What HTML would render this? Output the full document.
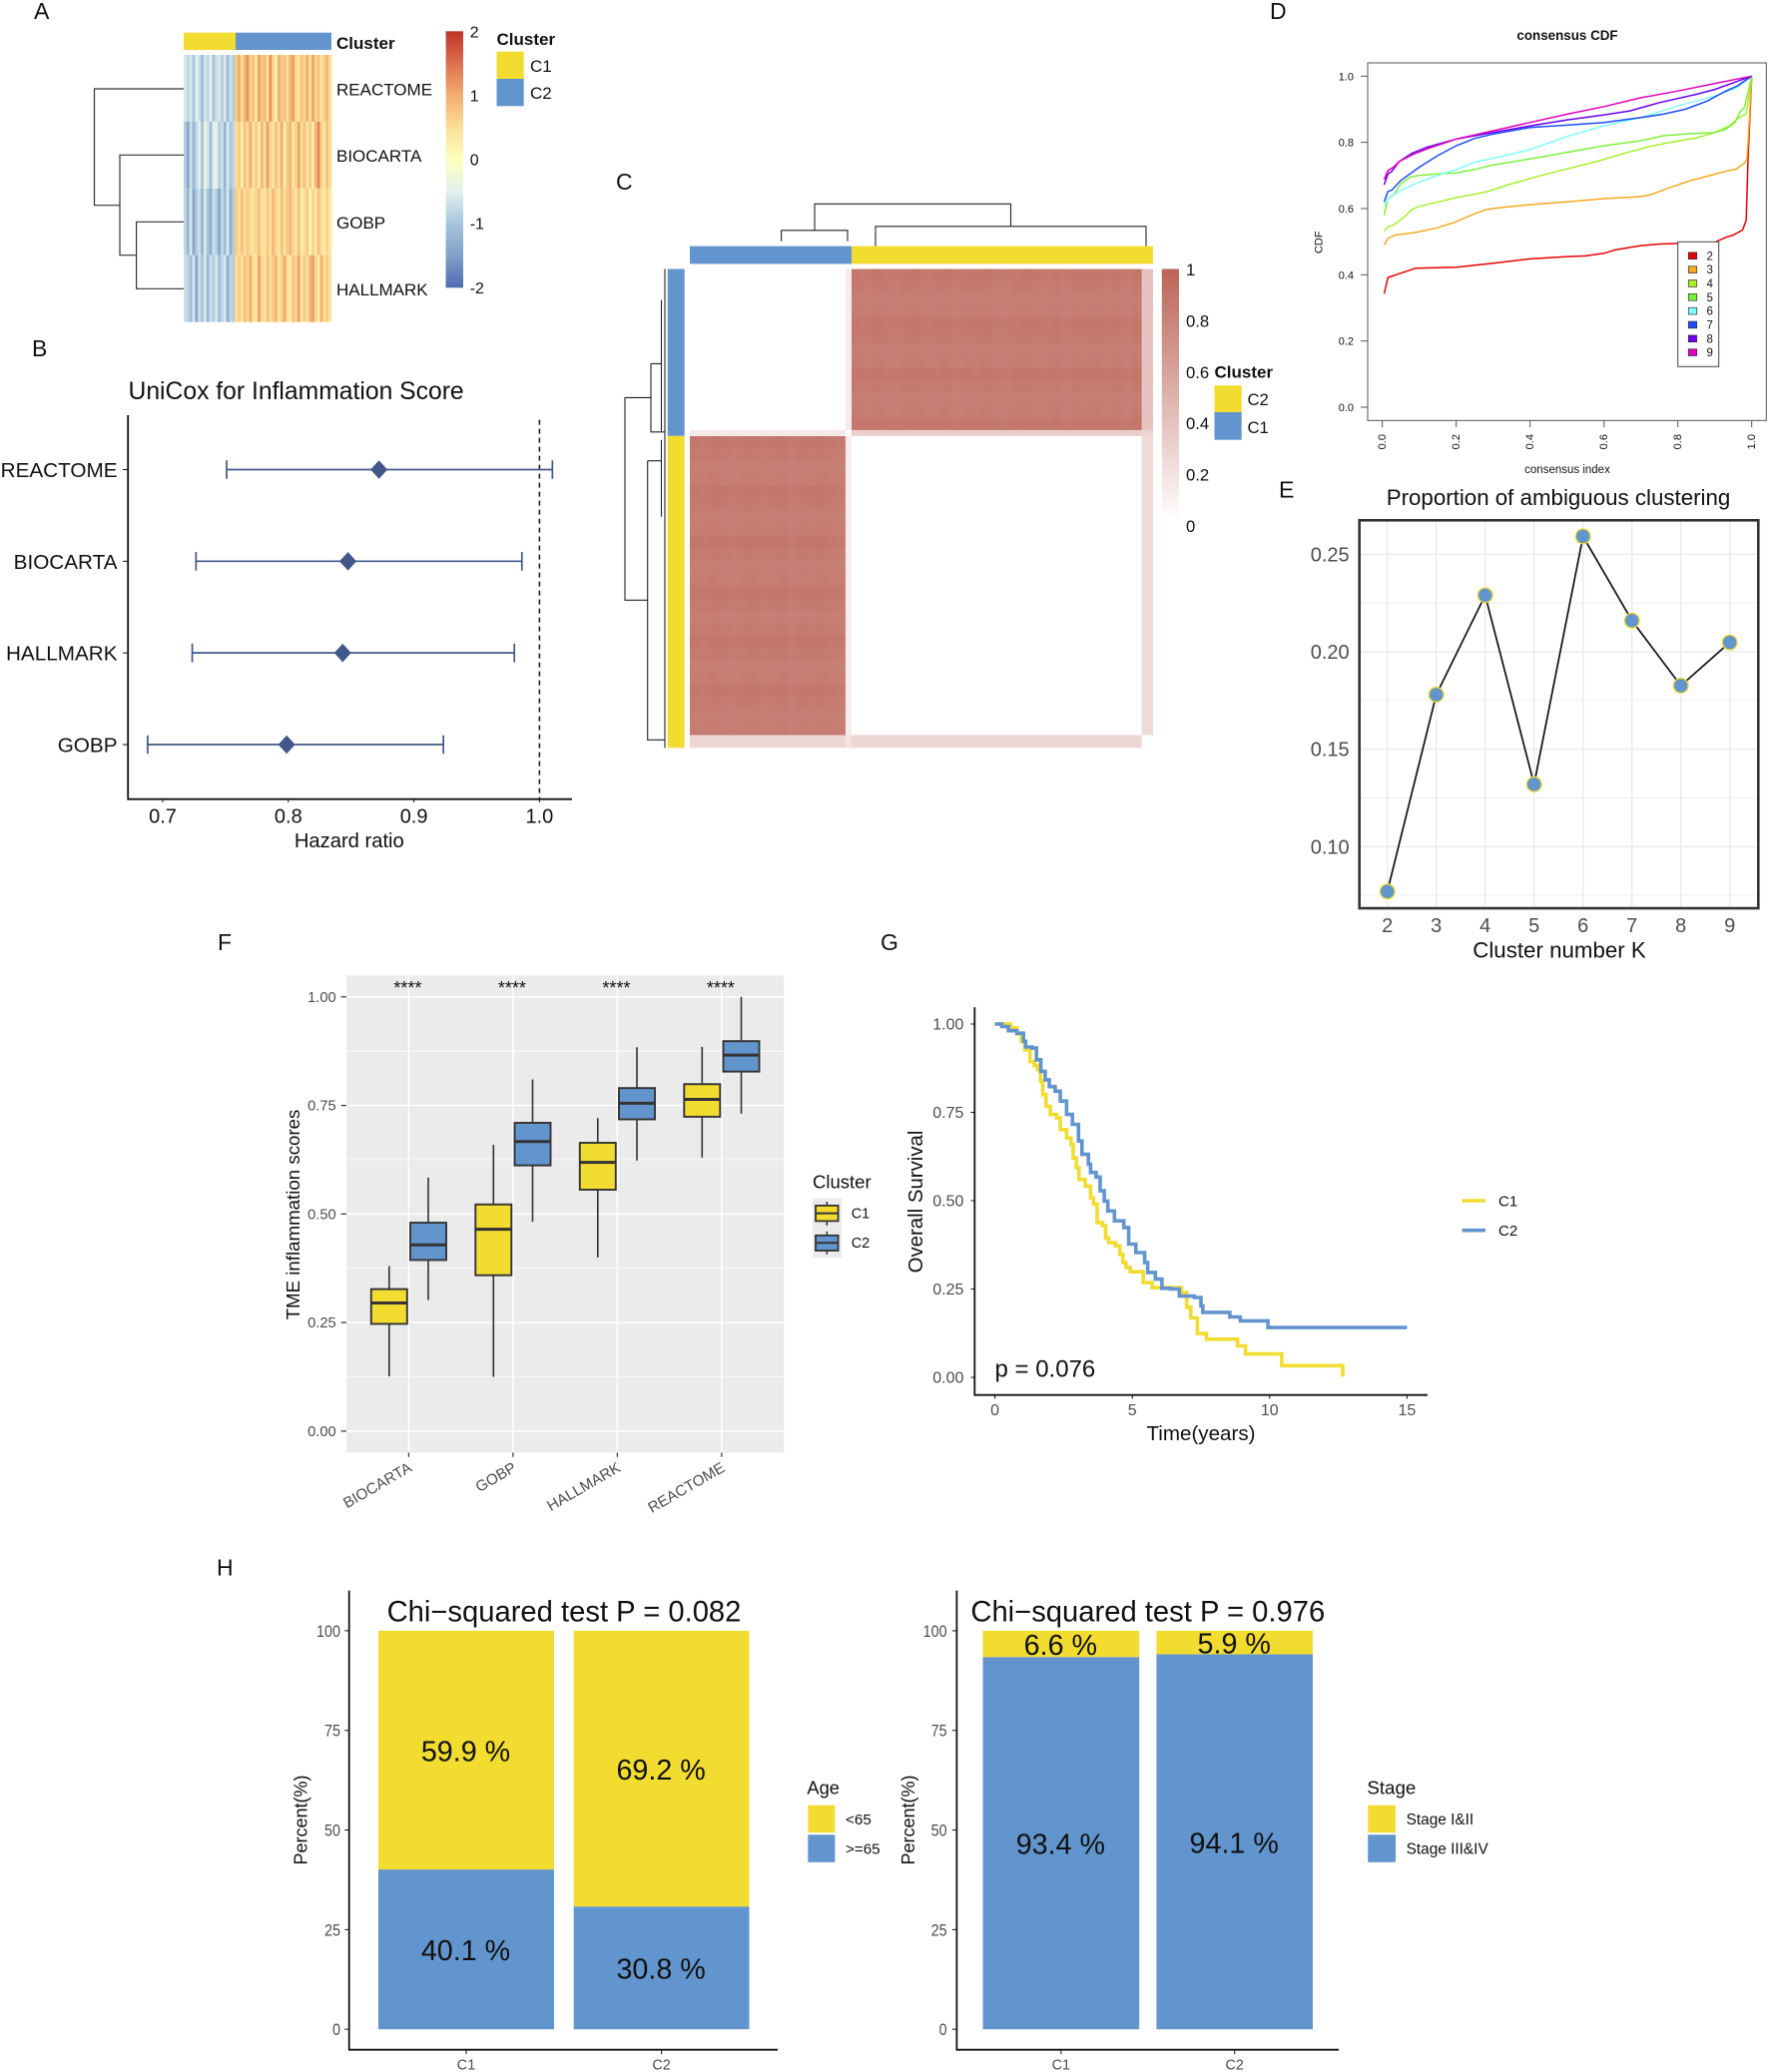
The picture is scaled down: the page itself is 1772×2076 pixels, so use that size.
<!DOCTYPE html>
<html lang="en">
<head>
<meta charset="utf-8">
<title>Inflammation score clustering figure</title>
<style>
  html, body { margin: 0; padding: 0; background: #fff; }
  svg { display: block; }
  text { font-family: "Liberation Sans", Arial, sans-serif; dominant-baseline: central; fill: #111; }
  .letter { font-size: 23px; fill: #111; }
  .bold { font-weight: bold; }
</style>
</head>
<body>
<svg id="figure" xmlns="http://www.w3.org/2000/svg" width="1772" height="2076" viewBox="0 0 1772 2076">
  <defs>
    <linearGradient id="grad-heat" x1="0" y1="0" x2="0" y2="1">
      <stop offset="0" stop-color="#c0342a"/>
      <stop offset="0.125" stop-color="#dd7050"/>
      <stop offset="0.25" stop-color="#f1ae70"/>
      <stop offset="0.375" stop-color="#fbdf96"/>
      <stop offset="0.5" stop-color="#ffffc0"/>
      <stop offset="0.625" stop-color="#e3f0ee"/>
      <stop offset="0.75" stop-color="#a8c5dd"/>
      <stop offset="0.875" stop-color="#7f9fc8"/>
      <stop offset="1" stop-color="#4f6db0"/>
    </linearGradient>
    <linearGradient id="grad-consensus" x1="0" y1="0" x2="0" y2="1">
      <stop offset="0" stop-color="#bb6456"/>
      <stop offset="1" stop-color="#ffffff"/>
    </linearGradient>
  </defs>
  <rect x="0" y="0" width="1772" height="2076" fill="#fff"/>

  <text class="letter" x="34" y="10">A</text>
  <text class="letter" x="32" y="348">B</text>
  <text class="letter" x="617" y="181">C</text>
  <text class="letter" x="1272" y="10">D</text>
  <text class="letter" x="1281" y="489.5">E</text>
  <text class="letter" x="218" y="943">F</text>
  <text class="letter" x="882" y="943">G</text>
  <text class="letter" x="217" y="1569.5">H</text>

  <!-- Panel A -->
  <g id="panel-a">
    <path fill="none" stroke="#333" stroke-width="1.2" d="M184 89H94.5V205.7H120M184 155.3H120V255.7H136.6M184 222.3H136.6V289.3H184"/>
    <rect x="184" y="32.7" width="52" height="17.3" fill="#f2dc30"/>
    <rect x="236" y="32.7" width="96" height="17.3" fill="#6295ce"/>
    <text class="bold" x="337" y="42.3" font-size="17">Cluster</text>
    <text x="337" y="89" font-size="17">REACTOME</text>
    <text x="337" y="155.7" font-size="17">BIOCARTA</text>
    <text x="337" y="222.3" font-size="17">GOBP</text>
    <text x="337" y="289.3" font-size="17">HALLMARK</text>
    <rect x="446.6" y="31.3" width="17.4" height="257" fill="url(#grad-heat)"/>
    <text x="470.7" y="32" font-size="16">2</text>
    <text x="470.7" y="96" font-size="16">1</text>
    <text x="470.7" y="160" font-size="16">0</text>
    <text x="470.7" y="224" font-size="16">-1</text>
    <text x="470.7" y="288.7" font-size="16">-2</text>
    <text class="bold" x="497.5" y="38.5" font-size="17">Cluster</text>
    <rect x="497.5" y="51.7" width="27.2" height="27.3" fill="#f2dc30"/>
    <rect x="497.5" y="79" width="27.2" height="27.3" fill="#6295ce"/>
    <text x="531" y="65.7" font-size="17">C1</text>
    <text x="531" y="92.7" font-size="17">C2</text>
  </g>

  <!-- Panel B -->
  <g id="panel-b">
    <text x="128.5" y="391.3" font-size="24.7">UniCox for Inflammation Score</text>
    <path fill="none" stroke="#111" stroke-width="1.8" d="M128.2 416V800.7H573"/>
    <text x="349.8" y="842" font-size="20.2" text-anchor="middle">Hazard ratio</text>
  </g>

  <!-- Panel C -->
  <g id="panel-c">
    <path fill="none" stroke="#222" stroke-width="1.1" d="M816 230.8V204.3H1012.5V226.8M782.6 241.8V230.8H849V241.8M877 252V226.8H1148V248M691.5 255H1155M846 252H851V255M1145 250H1151V255"/>
    <path fill="none" stroke="#888" stroke-width="1.2" d="M721 252.5H749M782 252.5H848M858 252H897M900 253.5H931"/>
    <rect x="691" y="246.6" width="162" height="17.8" fill="#6295ce"/>
    <rect x="853" y="246.6" width="302" height="17.8" fill="#f2dc30"/>
    <path fill="none" stroke="#222" stroke-width="1.1" d="M652 398.4H626V601.3H648.7M652 364.4V432.8H666M652 364.4H662.5M662.5 300.4V432M648.7 461.7V741.3H666M648.7 461.7H662.5M662.5 440.7V517.8M666 269.5V749.2"/>
    <rect x="668.7" y="269.5" width="17" height="167.3" fill="#6295ce"/>
    <rect x="668.7" y="436.8" width="17" height="312.4" fill="#f2dc30"/>
    <rect x="1163.8" y="269.5" width="17.2" height="252.3" fill="url(#grad-consensus)"/>
    <text x="1188" y="269.5" font-size="16.7">1</text>
    <text x="1188" y="321" font-size="16.7">0.8</text>
    <text x="1188" y="372.3" font-size="16.7">0.6</text>
    <text x="1188" y="423.7" font-size="16.7">0.4</text>
    <text x="1188" y="475" font-size="16.7">0.2</text>
    <text x="1188" y="526.5" font-size="16.7">0</text>
    <text class="bold" x="1216.5" y="372" font-size="17">Cluster</text>
    <rect x="1216.5" y="386.2" width="27.2" height="26.8" fill="#f2dc30"/>
    <rect x="1216.5" y="413" width="27.2" height="27.7" fill="#6295ce"/>
    <text x="1249.5" y="399.6" font-size="16.7">C2</text>
    <text x="1249.5" y="427.3" font-size="16.7">C1</text>
  </g>

  <!-- Panel D -->
  <g id="panel-d">
    <text class="bold" x="1570" y="34.5" font-size="13.4" text-anchor="middle">consensus CDF</text>
    <rect x="1370" y="63" width="399.3" height="358.3" fill="none" stroke="#555" stroke-width="1"/>
    <text x="1570" y="470" font-size="11.5" text-anchor="middle" fill="#333">consensus index</text>
    <text x="1321.7" y="242.7" font-size="11" text-anchor="middle" transform="rotate(-90 1321.7 242.7)">CDF</text>
  </g>

  <!-- Panel E -->
  <g id="panel-e">
    <text x="1561" y="497.5" font-size="22.3" text-anchor="middle">Proportion of ambiguous clustering</text>
    <text x="1562" y="951.2" font-size="22.3" text-anchor="middle">Cluster number K</text>
  </g>

  <!-- Panel F -->
  <g id="panel-f">
    <rect x="347" y="977.4" width="438.3" height="478" fill="#ebebeb"/>
    <text x="293.5" y="1217" font-size="18.7" text-anchor="middle" transform="rotate(-90 293.5 1217)">TME inflammation scores</text>
    <text x="814" y="1183" font-size="18.5">Cluster</text>
    <rect x="814" y="1200.8" width="29" height="59.2" fill="#ebebeb"/>
    <path stroke="#333" stroke-width="1.5" d="M828.3 1204V1227.8"/>
    <rect x="817" y="1207.9" width="22.6" height="15.5" fill="#f2dc30" stroke="#333" stroke-width="1.8"/>
    <path stroke="#333" stroke-width="2" d="M817 1215.6H839.6"/>
    <path stroke="#333" stroke-width="1.5" d="M828.3 1233.8V1256.7"/>
    <rect x="817" y="1237.8" width="22.6" height="15.2" fill="#6295ce" stroke="#333" stroke-width="1.8"/>
    <path stroke="#333" stroke-width="2" d="M817 1245.2H839.6"/>
    <text x="852.7" y="1215.6" font-size="14.4">C1</text>
    <text x="852.7" y="1245.2" font-size="14.4">C2</text>
  </g>

  <!-- Panel G -->
  <g id="panel-g">
    <path fill="none" stroke="#111" stroke-width="1.8" d="M976.3 1009.3V1397.7H1430"/>
    <text x="918" y="1204" font-size="20.4" text-anchor="middle" transform="rotate(-90 918 1204)">Overall Survival</text>
    <text x="1203" y="1435.7" font-size="20.6" text-anchor="middle">Time(years)</text>
    <text x="996.5" y="1371" font-size="24">p = 0.076</text>
    <path stroke="#f2dc30" stroke-width="3.6" d="M1464.6 1203H1488"/>
    <path stroke="#6295ce" stroke-width="3.6" d="M1464.6 1232.7H1488"/>
    <text x="1501" y="1203" font-size="15">C1</text>
    <text x="1501" y="1232.7" font-size="15">C2</text>
  </g>

  <!-- Panel H -->
  <g id="panel-h">
    <path fill="none" stroke="#111" stroke-width="1.8" d="M349.7 1593.6V2053.7H779"/>
    <path fill="none" stroke="#111" stroke-width="1.8" d="M958.4 1593.6V2053.7H1341"/>
    <text x="565" y="1614.4" font-size="29.2" text-anchor="middle">Chi&#8722;squared test P = 0.082</text>
    <text x="1149.8" y="1614.4" font-size="29.2" text-anchor="middle">Chi&#8722;squared test P = 0.976</text>
    <text x="301.5" y="1823.5" font-size="18" text-anchor="middle" transform="rotate(-90 301.5 1823.5)">Percent(%)</text>
    <text x="909.8" y="1823.5" font-size="18" text-anchor="middle" transform="rotate(-90 909.8 1823.5)">Percent(%)</text>
    <text x="808.4" y="1790" font-size="18.3">Age</text>
    <rect x="809.3" y="1808.7" width="27.1" height="27.5" fill="#f2dc30"/>
    <rect x="809.3" y="1838.3" width="27.1" height="27.5" fill="#6295ce"/>
    <text x="847" y="1822.5" font-size="15.2">&lt;65</text>
    <text x="847" y="1852" font-size="15.2">&gt;=65</text>
    <text x="1369.4" y="1790" font-size="18.7">Stage</text>
    <rect x="1370.2" y="1808.7" width="27.8" height="27.5" fill="#f2dc30"/>
    <rect x="1370.2" y="1838.3" width="27.8" height="27.5" fill="#6295ce"/>
    <text x="1408.6" y="1822.5" font-size="15.4">Stage I&amp;II</text>
    <text x="1408.6" y="1852" font-size="15.4">Stage III&amp;IV</text>
  </g>
</svg>

<script>
// ---------- Panel A: pathway score heatmap (columns: C1 then C2) ----------
const heatReactome = [-.6,-.8,-.6,-1,-.5,-.7,-1.1,-.6,-.8,-.5,-1,-.7,-.6,-.9,-.6,-1.1,-.7,-.9,.7,1,.5,.9,1.2,.6,.8,.4,1.1,.7,.9,.5,1.2,.6,.3,1,.7,.8,.5,.9,1.1,.6,.4,.8,.6,1,.5,1.1,.6,.8,.4,.7,.9,.5];
const heatBiocarta = [-.9,-1.4,-.7,-1.2,-.8,-.5,-1,-.4,-.6,-1.1,-.5,-.4,-.9,-.7,-1.2,-.6,-1,-.8,.5,.7,.3,.8,.5,1,.4,.7,.3,.9,.5,1.1,.6,.4,.8,.5,1,.3,.7,.9,.4,.6,1.1,.5,.8,.4,.7,.3,.9,1.3,.6,.4,.8,.5];
const heatGobp = [-.8,-1.2,-.6,-1.4,-.9,-.7,-1.2,-.6,-1,-1.3,-.7,-.9,-1.4,-.8,-1.1,-.6,-1.3,-.9,.7,.5,.8,.5,.7,.5,.4,.6,.8,.5,.4,.7,.5,.9,.6,.4,.8,.5,.7,.9,.6,.4,.8,.3,.5,.7,.2,.6,.4,.8,.5,.3,.6,.4];
const heatHallmark = [-.7,-.8,-1.1,-.6,-1.4,-.7,-1,-.6,-1.2,-.7,-.9,-.6,-1.1,-.8,-.6,-1.3,-.8,-.9,.5,.7,.4,.8,.6,1,.5,.4,1.1,.6,.4,.8,.5,.7,.9,.4,.6,1,.5,.3,.8,.6,1.1,.4,.7,.5,.9,1.1,.6,.3,1,.5,.7,.4];

// ---------- Panel B: forest plot ----------
const forestLabels = ["REACTOME","BIOCARTA","HALLMARK","GOBP"];
const forestEstimate = [.8722,.8475,.8433,.7987];
const forestLower = [.7509,.7265,.7235,.688];
const forestUpper = [1.0103,.986,.98,.9235];
const forestTicks = [.7,.8,.9,1.0];

// ---------- Panel C: consensus matrix ----------
const cmColFractions = [.336,.013,.6265,.0245];
const cmRowFractions = [.3365,.0123,.6247,.0265];
const cmRow1 = [0,.12,.85,.38];
const cmRow2 = [.14,0,.32,.28];
const cmRow3 = [.85,.12,0,.24];
const cmRow4 = [.26,.18,.26,0];
const cmRowBand = [.02,.0,-.02,-.01,.02,.005,-.02,-.01,.025,.0,-.02,-.01,.02,.005,-.02,0,.025,.005,-.02,-.01,.02,0,-.02,-.01];
const cmColBand = [.005,-.005,.01,0,-.01,.005,.01,-.005,0,.01,-.01,.005,0,.01,-.005,-.01,.005,.01,0,-.005,.01,-.01,.005,0,.01,-.005,.005,-.01,.01,0];

// ---------- Panel D: consensus CDF ----------
const cdfKLabels = ["2","3","4","5","6","7","8","9"];
const cdfIndexK2 = [.005,.015,.05,.09,.2,.3,.4,.5,.55,.6,.63,.7,.75,.9,.93,.95,.975,.985,.99,1];
const cdfValueK2 = [.343,.392,.405,.42,.423,.435,.448,.455,.457,.465,.475,.488,.493,.498,.513,.52,.535,.565,.75,1];
const cdfIndexK3 = [.005,.015,.035,.09,.15,.2,.24,.28,.32,.4,.5,.6,.7,.73,.77,.83,.88,.92,.96,.97,.98,.987,.99,1];
const cdfValueK3 = [.49,.51,.52,.528,.542,.56,.58,.597,.603,.612,.62,.63,.636,.643,.66,.683,.698,.71,.72,.73,.737,.75,.8,1];
const cdfIndexK4 = [.005,.015,.03,.055,.08,.1,.15,.2,.28,.35,.43,.5,.58,.65,.72,.77,.85,.9,.94,.965,.985,.99,1];
const cdfValueK4 = [.532,.545,.55,.57,.597,.607,.62,.633,.65,.675,.7,.72,.742,.765,.787,.798,.813,.83,.85,.875,.885,.92,1];
const cdfIndexK5 = [.005,.015,.03,.05,.075,.1,.15,.2,.25,.3,.4,.5,.6,.7,.76,.82,.9,.93,.955,.97,.98,.99,1];
const cdfValueK5 = [.58,.63,.64,.675,.695,.7,.705,.708,.718,.732,.75,.77,.79,.805,.82,.825,.83,.84,.86,.895,.905,.95,1];
const cdfIndexK6 = [.005,.02,.05,.1,.15,.2,.25,.3,.4,.5,.6,.7,.8,.9,.96,1];
const cdfValueK6 = [.61,.635,.655,.68,.7,.718,.74,.752,.778,.818,.85,.875,.91,.94,.965,1];
const cdfIndexK7 = [.005,.015,.025,.05,.1,.15,.2,.25,.3,.4,.5,.6,.7,.76,.82,.88,.93,.96,1];
const cdfValueK7 = [.62,.652,.655,.685,.725,.76,.79,.812,.825,.845,.852,.86,.875,.885,.9,.925,.955,.97,1];
const cdfIndexK8 = [.005,.015,.025,.045,.08,.12,.2,.3,.4,.5,.6,.67,.75,.85,.9,.95,1];
const cdfValueK8 = [.672,.705,.712,.742,.767,.785,.81,.83,.85,.868,.883,.895,.92,.945,.96,.98,1];
const cdfIndexK9 = [.005,.015,.03,.045,.08,.12,.2,.3,.4,.5,.6,.7,.8,.9,1];
const cdfValueK9 = [.688,.715,.725,.742,.762,.78,.81,.835,.86,.885,.908,.935,.955,.978,1];
const cdfTicks = ["0.0","0.2","0.4","0.6","0.8","1.0"];

// ---------- Panel E: proportion of ambiguous clustering ----------
const pacK = [2,3,4,5,6,7,8,9];
const pacValues = [.077,.178,.229,.132,.2592,.216,.1826,.2048];
const pacYTicks = ["0.10","0.15","0.20","0.25"];

// ---------- Panel F: box plots ----------
const boxCategories = ["BIOCARTA","GOBP","HALLMARK","REACTOME"];
const boxC1Low = [.126,.125,.4,.63];
const boxC1Q1 = [.247,.359,.556,.724];
const boxC1Median = [.295,.465,.619,.764];
const boxC1Q3 = [.327,.522,.664,.799];
const boxC1High = [.38,.659,.721,.885];
const boxC2Low = [.302,.482,.623,.731];
const boxC2Q1 = [.394,.612,.718,.828];
const boxC2Median = [.429,.667,.755,.866];
const boxC2Q3 = [.48,.71,.79,.898];
const boxC2High = [.584,.81,.884,1];
const boxYTicks = ["0.00","0.25","0.50","0.75","1.00"];
const boxSignificance = ["****","****","****","****"];

// ---------- Panel G: Kaplan-Meier ----------
const kmTimeC1 = [0,.41,.57,.8,.96,1.09,1.23,1.28,1.43,1.55,1.66,1.74,1.86,2.02,2.25,2.38,2.61,2.77,2.85,2.96,3.06,3.29,3.48,3.59,3.72,3.91,4.03,4.14,4.39,4.55,4.66,4.77,4.93,5.31,5.4,5.72,6.47,6.79,6.98,7.13,7.37,7.7,8.83,9.12,10.44,12.66,12.66];
const kmSurvC1 = [1,1,.989,.972,.951,.927,.927,.894,.883,.871,.838,.8,.767,.744,.734,.701,.678,.659,.621,.593,.56,.541,.508,.49,.438,.429,.395,.381,.372,.348,.325,.311,.299,.299,.268,.254,.254,.24,.198,.168,.124,.108,.089,.066,.033,.033,.002];
const kmTimeC2 = [0,.25,.49,.8,1.04,1.12,1.35,1.51,1.67,1.83,1.98,2.19,2.38,2.61,2.82,3.04,3.17,3.4,3.48,3.68,3.83,3.98,4.11,4.35,4.69,4.87,5.13,5.45,5.56,5.84,6.08,6.39,6.71,7.26,7.5,7.57,8.55,8.93,9.94,15];
const kmSurvC2 = [1,.993,.981,.974,.951,.935,.932,.899,.866,.842,.823,.81,.782,.744,.716,.669,.631,.603,.58,.567,.528,.499,.471,.443,.424,.377,.353,.325,.297,.278,.252,.25,.23,.226,.202,.184,.171,.16,.141,.141];
const kmXTicks = [0,5,10,15];
const kmYTicks = ["0.00","0.25","0.50","0.75","1.00"];

// ---------- Panel H: stacked bars ----------
const barCategories = ["C1","C2"];
const ageUnder65 = [59.9,69.2];
const ageOver65 = [40.1,30.8];
const stageEarly = [6.6,5.9];
const stageLate = [93.4,94.1];
const percentTicks = [0,25,50,75,100];

// ---------- drawing helpers ----------
const NS = "http://www.w3.org/2000/svg";
function mk(parent, tag, attrs, content) {
  const el = document.createElementNS(NS, tag);
  for (const k in attrs) el.setAttribute(k, attrs[k]);
  if (content !== undefined) el.textContent = content;
  parent.appendChild(el);
  return el;
}
function lerpStops(stops, v) {
  if (v <= stops[0][0]) return stops[0][1];
  for (let i = 1; i < stops.length; i++) {
    if (v <= stops[i][0]) {
      const t = (v - stops[i-1][0]) / (stops[i][0] - stops[i-1][0]);
      const a = stops[i-1][1], b = stops[i][1];
      return [0,1,2].map(j => a[j] + (b[j]-a[j]) * t);
    }
  }
  return stops[stops.length-1][1];
}
function rgb(c) { return "rgb(" + c.map(Math.round).join(",") + ")"; }
const YELLOW = "#f2dc30", BLUE = "#6295ce";
let el;

// ---------- Panel A draw ----------
(function () {
  const g = document.getElementById("panel-a");
  const stops = [[-2,[79,109,176]],[-1.5,[127,159,200]],[-1,[168,197,221]],[-.5,[227,240,238]],[0,[255,255,192]],[.5,[251,223,150]],[1,[241,174,112]],[1.5,[221,112,80]],[2,[192,52,42]]];
  const heatRows = [heatReactome, heatBiocarta, heatGobp, heatHallmark];
  const x0 = 184, x1 = 332, y0 = 55, y1 = 322.7;
  const colX = i => x0 + (x1 - x0) * i / heatReactome.length;
  const rowY = i => y0 + (y1 - y0) * i / heatRows.length;
  heatRows.forEach((row, r) => {
    row.forEach((v, c) => {
      el = mk(g, "rect", {x: colX(c), y: rowY(r), width: colX(c+1)-colX(c)+.3, height: rowY(r+1)-rowY(r), fill: rgb(lerpStops(stops, v))});
      
      
    });
  });
})();

// ---------- Panel B draw ----------
(function () {
  const g = document.getElementById("panel-b");
  const col = "#41578a";
  const bx = v => 163 + (v - .7) * 1258;
  const by = i => 470.5 + i * 91.83;
  el = mk(g, "line", {x1: bx(1), x2: bx(1), y1: 420.6, y2: 800.7, stroke: "#111", "stroke-width": 1.5, "stroke-dasharray": "5 4"});
  
  
  forestTicks.forEach(t => {
    el = mk(g, "line", {x1: bx(t), x2: bx(t), y1: 800.7, y2: 804, stroke: "#111", "stroke-width": 1});
    
    
    el = mk(g, "text", {x: bx(t), y: 817.6, "font-size": 20, "text-anchor": "middle"}, t.toFixed(1));
    
    
  });
  forestLabels.forEach((lab, i) => {
    const y = by(i);
    el = mk(g, "line", {x1: 123, x2: 128, y1: y, y2: y, stroke: "#111", "stroke-width": 1});
    
    
    el = mk(g, "text", {x: 117.5, y: y, "font-size": 20.7, "text-anchor": "end"}, lab);
    
    
    el = mk(g, "path", {d: `M${bx(forestLower[i])} ${y-9.3}V${y+9.3}M${bx(forestLower[i])} ${y}H${bx(forestUpper[i])}M${bx(forestUpper[i])} ${y-9.3}V${y+9.3}`, fill: "none", stroke: col, "stroke-width": 1.7});
    
    
    const e = bx(forestEstimate[i]);
    el = mk(g, "polygon", {points: `${e-8.5},${y} ${e},${y-9.3} ${e+8.5},${y} ${e},${y+9.3}`, fill: col});
    
    
  });
})();

// ---------- Panel C draw ----------
(function () {
  const g = document.getElementById("panel-c");
  const x0 = 691, x1 = 1155, y0 = 269.5, y1 = 749.2;
  const cmValues = [cmRow1, cmRow2, cmRow3, cmRow4];
  const sum = a => a.reduce((p, c) => p + c, 0);
  const xScale = f => x0 + (x1 - x0) * f / sum(cmColFractions);
  const yScale = f => y0 + (y1 - y0) * f / sum(cmRowFractions);
  const color = v => {
    const c = Math.max(0, Math.min(1, v));
    return rgb([255 - 68 * c, 255 - 155 * c, 255 - 168 * c]);
  };
  let fy = 0;
  cmValues.forEach((row, r) => {
    let fx = 0;
    row.forEach((v, c) => {
      const ax = xScale(fx), bx = xScale(fx + cmColFractions[c]);
      const ay = yScale(fy), by = yScale(fy + cmRowFractions[r]);
      if (v > .5) {
        const nc = Math.max(1, Math.round((bx - ax) / 10));
        const nr = Math.max(1, Math.round((by - ay) / 12.5));
        for (let i = 0; i < nr; i++) {
          for (let j = 0; j < nc; j++) {
            el = mk(g, "rect", {x: ax + (bx-ax)*j/nc, y: ay + (by-ay)*i/nr, width: (bx-ax)/nc + .4, height: (by-ay)/nr + .4, fill: color(v + cmRowBand[i % cmRowBand.length] + cmColBand[j % cmColBand.length]), "shape-rendering": "crispEdges"});
            
            
          }
        }
      } else if (v > 0) {
        el = mk(g, "rect", {x: ax, y: ay, width: bx-ax, height: by-ay, fill: color(v)});
        
        
      }
      fx += cmColFractions[c];
    });
    fy += cmRowFractions[r];
  });
})();

// ---------- Panel D draw ----------
(function () {
  const g = document.getElementById("panel-d");
  const dx = v => 1384.7 + 370 * v;
  const dy = v => 408 - 331.7 * v;
  const colors = ["#e60000","#f5a820","#a8f02c","#7cf03c","#7ffcfc","#1c4cf8","#6a00f0","#e000b8"];
  const xs = [cdfIndexK2,cdfIndexK3,cdfIndexK4,cdfIndexK5,cdfIndexK6,cdfIndexK7,cdfIndexK8,cdfIndexK9];
  const ys = [cdfValueK2,cdfValueK3,cdfValueK4,cdfValueK5,cdfValueK6,cdfValueK7,cdfValueK8,cdfValueK9];
  cdfTicks.forEach(t => {
    const v = parseFloat(t);
    el = mk(g, "line", {x1: 1363, x2: 1370, y1: dy(v), y2: dy(v), stroke: "#555"});
    
    
    el = mk(g, "text", {x: 1356, y: dy(v), "font-size": 11, "text-anchor": "end", fill: "#333"}, t);
    
    
    el = mk(g, "line", {x1: dx(v), x2: dx(v), y1: 421.3, y2: 428, stroke: "#555"});
    
    
    el = mk(g, "text", {x: dx(v) + .5, y: 442.7, "font-size": 11, "text-anchor": "middle", transform: `rotate(-90 ${dx(v) + .5} 442.7)`, fill: "#333"}, t);
    
    
  });
  xs.forEach((series, k) => {
    const d = series.map((x, i) => (i ? "L" : "M") + dx(x).toFixed(1) + " " + dy(ys[k][i]).toFixed(1)).join("");
    el = mk(g, "path", {d: d, fill: "none", stroke: colors[k], "stroke-width": 1.5});
    
    
  });
  el = mk(g, "rect", {x: 1680.7, y: 242.3, width: 41, height: 125, fill: "#fff", stroke: "#444", "stroke-width": 1});
  
  
  cdfKLabels.forEach((lab, i) => {
    const y = 256.3 + i * 13.83;
    el = mk(g, "rect", {x: 1691.3, y: y - 3.4, width: 8.4, height: 6.8, fill: colors[i], stroke: "#333", "stroke-width": .7});
    
    
    el = mk(g, "text", {x: 1712.7, y: y, "font-size": 11.5, "text-anchor": "middle", fill: "#222"}, lab);
    
    
  });
})();

// ---------- Panel E draw ----------
(function () {
  const g = document.getElementById("panel-e");
  const ex = k => 1389.7 + (k - 2) * 49;
  const ey = v => 848.3 - (v - .1) * 1953;
  const L = 1361.7, R = 1761.3, T = 521.3, B = 910;
  const minorTicks = [.075,.125,.175,.225];
  minorTicks.forEach(v => {
    el = mk(g, "line", {x1: L, x2: R, y1: ey(v), y2: ey(v), stroke: "#f0f0f0", "stroke-width": 1});
    
    
  });
  pacYTicks.forEach(t => {
    const v = parseFloat(t);
    el = mk(g, "line", {x1: L, x2: R, y1: ey(v), y2: ey(v), stroke: "#ebebeb", "stroke-width": 1.5});
    
    
    el = mk(g, "text", {x: 1351.7, y: ey(v), "font-size": 20, "text-anchor": "end"}, t);
    
    
    el.style.fill = "#4d4d4d";
  });
  pacK.forEach(k => {
    el = mk(g, "line", {x1: ex(k), x2: ex(k), y1: T, y2: B, stroke: "#ebebeb", "stroke-width": 1.5});
    
    
    el = mk(g, "text", {x: ex(k), y: 927, "font-size": 20, "text-anchor": "middle"}, k);
    
    
    el.style.fill = "#4d4d4d";
  });
  el = mk(g, "rect", {x: L, y: T, width: R - L, height: B - T, fill: "none", stroke: "#333", "stroke-width": 2.6});
  
  
  el = mk(g, "polyline", {points: pacK.map((k, i) => ex(k) + "," + ey(pacValues[i]).toFixed(1)).join(" "), fill: "none", stroke: "#111", "stroke-width": 1.7});
  
  
  pacK.forEach((k, i) => {
    el = mk(g, "circle", {cx: ex(k), cy: ey(pacValues[i]), r: 7.4, fill: BLUE, stroke: YELLOW, "stroke-width": 1.3});
    
    
  });
})();

// ---------- Panel F draw ----------
(function () {
  const g = document.getElementById("panel-f");
  const fx = i => 409.4 + i * 104.5;
  const fy = v => 1433.9 - 435.1 * v;
  const L = 347, R = 785.3, T = 977.4, B = 1455.4;
  const minorTicks = [.125,.375,.625,.875];
  minorTicks.forEach(v => {
    el = mk(g, "line", {x1: L, x2: R, y1: fy(v), y2: fy(v), stroke: "#fff", "stroke-width": .8});
    
    
  });
  boxYTicks.forEach(t => {
    const v = parseFloat(t);
    el = mk(g, "line", {x1: L, x2: R, y1: fy(v), y2: fy(v), stroke: "#fff", "stroke-width": 1.5});
    
    
    el = mk(g, "line", {x1: 341.6, x2: L, y1: fy(v), y2: fy(v), stroke: "#333", "stroke-width": 1.2});
    
    
    el = mk(g, "text", {x: 336.7, y: fy(v), "font-size": 14.7, "text-anchor": "end"}, t);
    
    
    el.style.fill = "#4d4d4d";
  });
  boxCategories.forEach((cat, i) => {
    const x = fx(i);
    el = mk(g, "line", {x1: x, x2: x, y1: T, y2: B, stroke: "#fff", "stroke-width": 1.5});
    
    
    el = mk(g, "line", {x1: x, x2: x, y1: B, y2: 1459.8, stroke: "#333", "stroke-width": 1.2});
    
    
    el = mk(g, "text", {x: x + 2, y: 1469.5, "font-size": 15.2, "text-anchor": "end", transform: `rotate(-30 ${x + 2} 1469.5)`}, cat);
    
    
    el.style.fill = "#4d4d4d";
    el = mk(g, "text", {x: x - 1, y: 989, "font-size": 18, "text-anchor": "middle"}, boxSignificance[i]);
    
    
  });
  const groups = [
    {off: -19.6, fill: YELLOW, lo: boxC1Low, q1: boxC1Q1, me: boxC1Median, q3: boxC1Q3, hi: boxC1High},
    {off: 19.6, fill: BLUE, lo: boxC2Low, q1: boxC2Q1, me: boxC2Median, q3: boxC2Q3, hi: boxC2High}
  ];
  groups.forEach(s => {
    boxCategories.forEach((cat, i) => {
      const x = fx(i) + s.off, hw = 18;
      el = mk(g, "line", {x1: x, x2: x, y1: fy(s.hi[i]), y2: fy(s.lo[i]), stroke: "#333", "stroke-width": 1.6});
      
      
      el = mk(g, "rect", {x: x - hw, y: fy(s.q3[i]), width: 2 * hw, height: fy(s.q1[i]) - fy(s.q3[i]), fill: s.fill, stroke: "#333", "stroke-width": 1.9});
      
      
      el = mk(g, "line", {x1: x - hw, x2: x + hw, y1: fy(s.me[i]), y2: fy(s.me[i]), stroke: "#333", "stroke-width": 3});
      
      
    });
  });
})();

// ---------- Panel G draw ----------
(function () {
  const g = document.getElementById("panel-g");
  const gx = t => 996.6 + 27.52 * t;
  const gy = s => 1380 - 354 * s;
  kmXTicks.forEach(t => {
    el = mk(g, "line", {x1: gx(t), x2: gx(t), y1: 1397.7, y2: 1401.5, stroke: "#111", "stroke-width": 1});
    
    
    el = mk(g, "text", {x: gx(t), y: 1412.7, "font-size": 16, "text-anchor": "middle"}, t);
    
    
    el.style.fill = "#4d4d4d";
  });
  kmYTicks.forEach(t => {
    const v = parseFloat(t);
    el = mk(g, "line", {x1: 972.5, x2: 976.3, y1: gy(v), y2: gy(v), stroke: "#111", "stroke-width": 1});
    
    
    el = mk(g, "text", {x: 965.4, y: gy(v), "font-size": 16, "text-anchor": "end"}, t);
    
    
    el.style.fill = "#4d4d4d";
  });
  const stepPath = (ts, ss) => ts.map((t, i) => i === 0 ? `M${gx(t).toFixed(1)} ${gy(ss[i]).toFixed(1)}` : `H${gx(t).toFixed(1)}V${gy(ss[i]).toFixed(1)}`).join("");
  el = mk(g, "path", {d: stepPath(kmTimeC1, kmSurvC1), fill: "none", stroke: YELLOW, "stroke-width": 3.6});
  
  
  el = mk(g, "path", {d: stepPath(kmTimeC2, kmSurvC2), fill: "none", stroke: BLUE, "stroke-width": 3.6});
  
  
})();

// ---------- Panel H draw ----------
(function () {
  const g = document.getElementById("panel-h");
  const py = p => 2033.2 - 3.993 * p;
  const panels = [
    {axisX: 349.7, labelX: 341, x: [379, 574.7], w: [176, 175.8], bottom: ageOver65, top: ageUnder65},
    {axisX: 958.4, labelX: 948.6, x: [984.5, 1158.4], w: [156.7, 156.6], bottom: stageLate, top: stageEarly}
  ];
  panels.forEach(p => {
    percentTicks.forEach(t => {
      el = mk(g, "line", {x1: p.axisX - 4.5, x2: p.axisX, y1: py(t), y2: py(t), stroke: "#111", "stroke-width": 1});
      
      
      el = mk(g, "text", {x: p.labelX, y: py(t), "font-size": 16.5, "text-anchor": "end", textLength: String(t).length * 8, lengthAdjust: "spacingAndGlyphs"}, t);
      
      
      el.style.fill = "#4d4d4d";
    });
    barCategories.forEach((cat, i) => {
      const cx = p.x[i] + p.w[i] / 2;
      const b = p.bottom[i], t = p.top[i];
      el = mk(g, "rect", {x: p.x[i], y: py(b), width: p.w[i], height: py(0) - py(b), fill: BLUE});
      
      
      el = mk(g, "rect", {x: p.x[i], y: py(b + t), width: p.w[i], height: py(b) - py(b + t), fill: YELLOW});
      
      
      el = mk(g, "text", {x: cx - .5, y: py(b / 2) + 1, "font-size": 28.7, "text-anchor": "middle"}, b + " %");
      
      
      el = mk(g, "text", {x: cx - .5, y: py(b + t / 2) + 1, "font-size": 28.7, "text-anchor": "middle"}, t + " %");
      
      
      el = mk(g, "line", {x1: cx, x2: cx, y1: 2053.7, y2: 2058, stroke: "#111", "stroke-width": 1});
      
      
      el = mk(g, "text", {x: cx, y: 2068.5, "font-size": 14.4, "text-anchor": "middle"}, cat);
      
      
      el.style.fill = "#4d4d4d";
    });
  });
})();

// nudge horizontal labels down one pixel to sit on the reference's text baseline
document.querySelectorAll('#figure text').forEach(t => {
  if (!t.hasAttribute('transform')) t.setAttribute('y', parseFloat(t.getAttribute('y')) + 1);
});
</script>
</body>
</html>
